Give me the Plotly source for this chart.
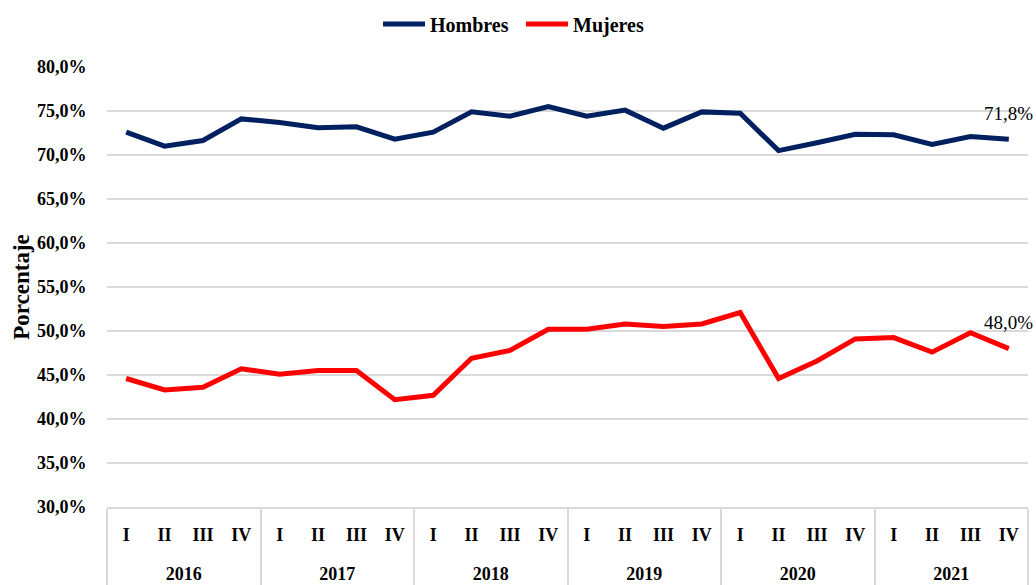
import plotly.graph_objects as go

years = ["2016", "2017", "2018", "2019", "2020", "2021"]
quarters = ["I", "II", "III", "IV"]

hombres = [72.6, 71.0, 71.65, 74.1,
           73.7, 73.1, 73.2, 71.8,
           72.6, 74.9, 74.4, 75.5,
           74.4, 75.1, 73.05, 74.9,
           74.75, 70.5, 71.4, 72.35,
           72.3, 71.2, 72.1, 71.8]
mujeres = [44.6, 43.3, 43.6, 45.7,
           45.1, 45.5, 45.5, 42.2,
           42.7, 46.9, 47.8, 50.2,
           50.2, 50.8, 50.5, 50.8,
           52.1, 44.6, 46.6, 49.1,
           49.25, 47.6, 49.8, 48.0]

LBL = "<span style='font-size:18px'>{}</span>"
# year labels pushed down to open the gap between the two label rows
x_years = ["<br><br>" + LBL.format(y) for y in years for _ in quarters]
x_quarters = [LBL.format(q) for _ in years for q in quarters]

FONT = "Palatino Linotype, Book Antiqua, Palatino, Liberation Serif, serif"

def fmt(v):
    return f"{v:.1f}".replace(".", ",") + "%"

fig = go.Figure()
fig.add_trace(go.Scatter(
    x=[x_years, x_quarters], y=hombres, name="Hombres", mode="lines",
    line=dict(color="#002060", width=5),
))
fig.add_trace(go.Scatter(
    x=[x_years, x_quarters], y=mujeres, name="Mujeres", mode="lines",
    line=dict(color="#FF0000", width=5),
))

last = len(hombres) - 1
for vals in (hombres, mujeres):
    fig.add_annotation(
        x=last, y=vals[-1], xref="x", yref="y",
        text=fmt(vals[-1]), showarrow=False,
        xshift=0, yshift=26,
        font=dict(family=FONT, size=19, color="#000000"),
    )

fig.update_layout(
    width=1036, height=585,
    margin=dict(l=107, r=8, t=67, b=78, autoexpand=False),
    paper_bgcolor="white", plot_bgcolor="white",
    separators=",.",
    font=dict(family=FONT, size=18, color="#000000"),
    showlegend=True,
    legend=dict(orientation="h", x=0.5 + 3 / 1036, xanchor="center", xref="container",
                y=1 - 24 / 585, yanchor="middle", yref="container",
                font=dict(family=FONT, size=20, color="#000000", weight="bold"),
                itemwidth=42, tracegroupgap=0,
                entrywidth=86, entrywidthmode="pixels"),
)

fig.update_yaxes(
    range=[30, 80], dtick=5, tick0=30,
    tickformat=".1f", ticksuffix="%",
    showgrid=True, gridcolor="#d9d9d9", gridwidth=2,
    zeroline=False, showline=False,
    ticks="outside", ticklen=16, tickcolor="rgba(0,0,0,0)",
    automargin=False,
    tickfont=dict(family=FONT, size=18, color="#000000", weight="bold"),
    title=dict(text="<b>Porcentaje</b>", font=dict(family=FONT, size=23, color="#000000"),
               standoff=0),
)
fig.update_xaxes(
    type="multicategory", automargin=False,
    range=[-0.5, len(hombres) - 0.5],
    showgrid=False, showline=True, linecolor="#d9d9d9", linewidth=2,
    showdividers=True, dividercolor="#d9d9d9", dividerwidth=2,
    tickfont=dict(family=FONT, size=13, color="#000000", weight="bold"),
    ticks="", ticklabelstandoff=16,
)

fig.write_html("out.html", config={"displayModeBar": False},
               post_script="document.body.style.margin='0px';document.body.style.overflow='hidden';")
